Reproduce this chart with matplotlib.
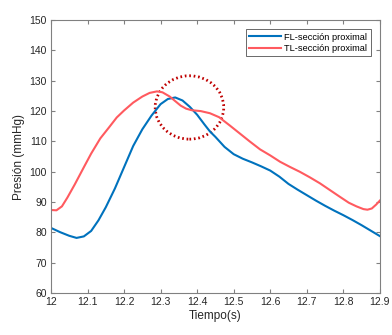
import numpy as np
from matplotlib import pyplot as plt
from matplotlib.patches import Ellipse

plt.rcParams['font.family'] = ['Liberation Sans', 'DejaVu Sans']
plt.rcParams['font.size'] = 7.5

#---- Data

t_fl = [12.00, 12.025, 12.05, 12.07, 12.09, 12.11, 12.13, 12.15, 12.175, 12.2,
        12.225, 12.25, 12.275, 12.3, 12.32, 12.34, 12.36, 12.38, 12.4, 12.42,
        12.435, 12.45, 12.475, 12.5, 12.525, 12.55, 12.575, 12.6, 12.625, 12.65,
        12.675, 12.7, 12.725, 12.75, 12.775, 12.8, 12.825, 12.85, 12.875, 12.9]
p_fl = [81.5, 80.1, 78.9, 78.2, 78.7, 80.5, 84.0, 88.3, 94.5, 101.5,
        108.5, 114.0, 118.5, 122.3, 124.0, 124.5, 123.5, 121.4, 118.8, 115.6,
        113.3, 111.5, 108.2, 105.8, 104.3, 103.1, 101.8, 100.4, 98.4, 96.0,
        94.1, 92.3, 90.5, 88.8, 87.2, 85.7, 84.1, 82.4, 80.6, 78.8]

t_tl = [12.00, 12.015, 12.03, 12.045, 12.065, 12.09, 12.11, 12.135, 12.16, 12.18,
        12.2, 12.225, 12.25, 12.27, 12.29, 12.305, 12.325, 12.34, 12.355, 12.37,
        12.385, 12.41, 12.435, 12.46, 12.49, 12.517, 12.544, 12.572, 12.6, 12.627,
        12.654, 12.681, 12.708, 12.736, 12.763, 12.79, 12.815, 12.836, 12.855, 12.866,
        12.878, 12.89, 12.9]
p_tl = [87.4, 87.3, 88.6, 91.5, 95.8, 101.5, 106.0, 111.0, 114.8, 117.9,
        120.2, 122.8, 124.8, 126.0, 126.5, 126.2, 124.8, 123.3, 121.8, 120.8,
        120.3, 120.0, 119.3, 118.0, 115.2, 112.6, 110.0, 107.4, 105.4, 103.3,
        101.6, 100.0, 98.2, 96.2, 94.0, 91.8, 89.8, 88.6, 87.7, 87.5,
        87.9, 89.2, 90.5]

labels = ['FL-sección proximal', 'TL-sección proximal']

#---- Figure

fig = plt.figure(figsize=(3.92, 3.35), dpi=100)
ax = fig.add_axes([0.130, 0.125, 0.839, 0.815])

ax.plot(t_fl, p_fl, color='#0072BD', lw=1.5, label=labels[0])
ax.plot(t_tl, p_tl, color='#FF5A5F', lw=1.5, label=labels[1])

# dotted circle marking the crossing
circ = Ellipse((12.379, 121.2), 0.1875, 20.9, fill=False,
               edgecolor='#C00000', lw=2.0, linestyle=(0, (0.6, 1.0)))
ax.add_patch(circ)

ax.set_xlim(12, 12.9)
ax.set_ylim(60, 150)
ax.set_xticks(np.arange(12, 12.91, 0.1))
ax.set_xticklabels(['12', '12.1', '12.2', '12.3', '12.4', '12.5',
                    '12.6', '12.7', '12.8', '12.9'])
ax.set_yticks(np.arange(60, 151, 10))

ax.set_xlabel('Tiempo(s)', fontsize=8.5, color='#262626', labelpad=2)
ax.set_ylabel('Presión (mmHg)', fontsize=8.5, color='#262626', labelpad=3)

for s in ax.spines.values():
    s.set_color('#808080')
    s.set_linewidth(0.8)
ax.tick_params(which='both', direction='in', top=True, right=True,
               length=3, width=0.8, color='#808080', labelcolor='#262626',
               labelsize=7.5, pad=3)

leg = ax.legend(loc='upper right', fontsize=6.7, frameon=True, fancybox=False,
                borderaxespad=1.0, handlelength=3.4, handletextpad=0.4,
                borderpad=0.35, labelspacing=0.25)
leg.get_frame().set_edgecolor('#262626')
leg.get_frame().set_linewidth(0.6)

plt.savefig('out.png', dpi=100)
